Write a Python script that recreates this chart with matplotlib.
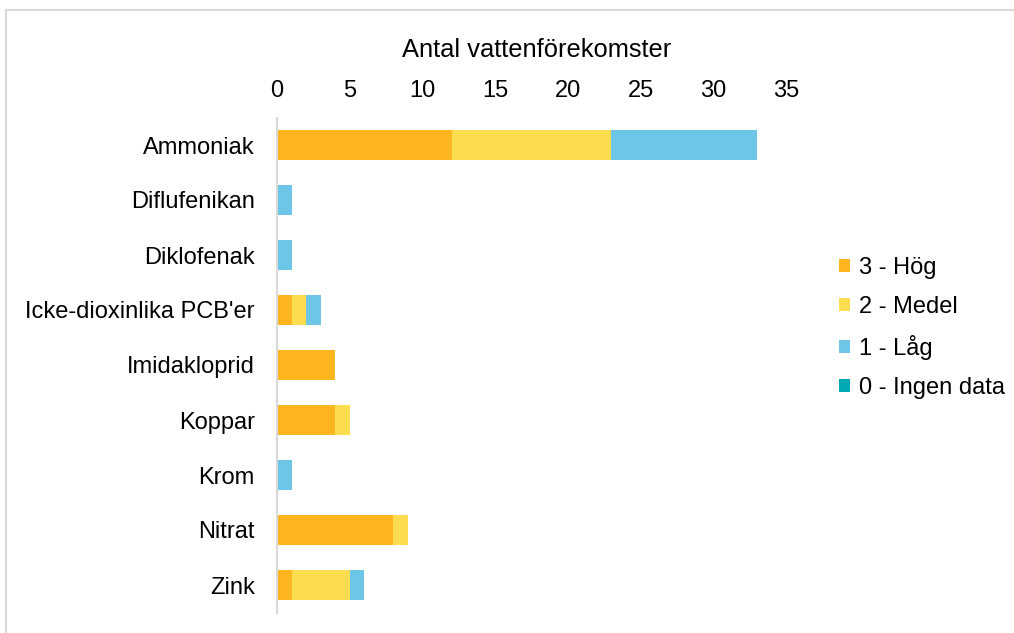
import numpy as np
import matplotlib.pyplot as plt
from matplotlib.lines import Line2D

plt.rcParams['font.family'] = ['Liberation Sans', 'DejaVu Sans']

# Data
amnen = ['Ammoniak', 'Diflufenikan', 'Diklofenak', "Icke-dioxinlika PCB'er",
         'Imidakloprid', 'Koppar', 'Krom', 'Nitrat', 'Zink']
hog = [12, 0, 0, 1, 4, 4, 0, 8, 1]
medel = [11, 0, 0, 1, 0, 1, 0, 1, 4]
lag = [10, 1, 1, 1, 0, 0, 1, 0, 1]
ingen = [0, 0, 0, 0, 0, 0, 0, 0, 0]

serier = ['3 - Hög', '2 - Medel', '1 - Låg', '0 - Ingen data']
farger = ['#FDB520', '#FDDD50', '#6DC5E8', '#00AAB5']
xticks = [0, 5, 10, 15, 20, 25, 30, 35]

fig = plt.figure(figsize=(10.14, 6.33), dpi=100)
ax = fig.add_axes([277 / 1014, 1 - 612.5 / 633, (786 - 277) / 1014, (612.5 - 117.5) / 633])

y = np.arange(len(amnen))
left = np.zeros(len(amnen))
for vals, namn, farg in zip([hog, medel, lag, ingen], serier, farger):
    vals = np.array(vals, dtype=float)
    ax.barh(y, vals, left=left, height=0.55, color=farg, label=namn)
    left += vals

ax.set_ylim(len(amnen) - 0.5, -0.5)
ax.set_xlim(0, 35)
ax.set_yticks(y)
ax.set_yticklabels(amnen, fontsize=17)
ax.set_xticks(xticks)
ax.xaxis.tick_top()
ax.xaxis.set_label_position('top')
ax.set_xlabel('Antal vattenförekomster', fontsize=18.4, va='center')
ax.xaxis.set_label_coords((537 - 277) / 509, 1 + (117.5 - 50) / 495)
ax.tick_params(axis='x', length=0, labelsize=17, pad=11)
ax.tick_params(axis='y', length=0, pad=16)
for s in ['top', 'right', 'bottom']:
    ax.spines[s].set_visible(False)
ax.spines['left'].set_color('#D9D9D9')
ax.spines['left'].set_linewidth(1.5)

ax.legend(loc='center left', bbox_to_anchor=(818 / 1014, 1 - 328 / 633),
          bbox_transform=fig.transFigure, frameon=False, fontsize=17,
          handlelength=0.45, handleheight=0.45, handletextpad=0.4, labelspacing=0.72)

# ram runt diagrammet
fig.add_artist(Line2D([6 / 1014, 1], [1 - 10 / 633, 1 - 10 / 633], transform=fig.transFigure,
                      color='#D9D9D9', linewidth=1.5))
fig.add_artist(Line2D([6 / 1014, 6 / 1014], [0, 1 - 10 / 633], transform=fig.transFigure,
                      color='#D9D9D9', linewidth=1.5))

fig.savefig('out.png', dpi=100, facecolor='white')
